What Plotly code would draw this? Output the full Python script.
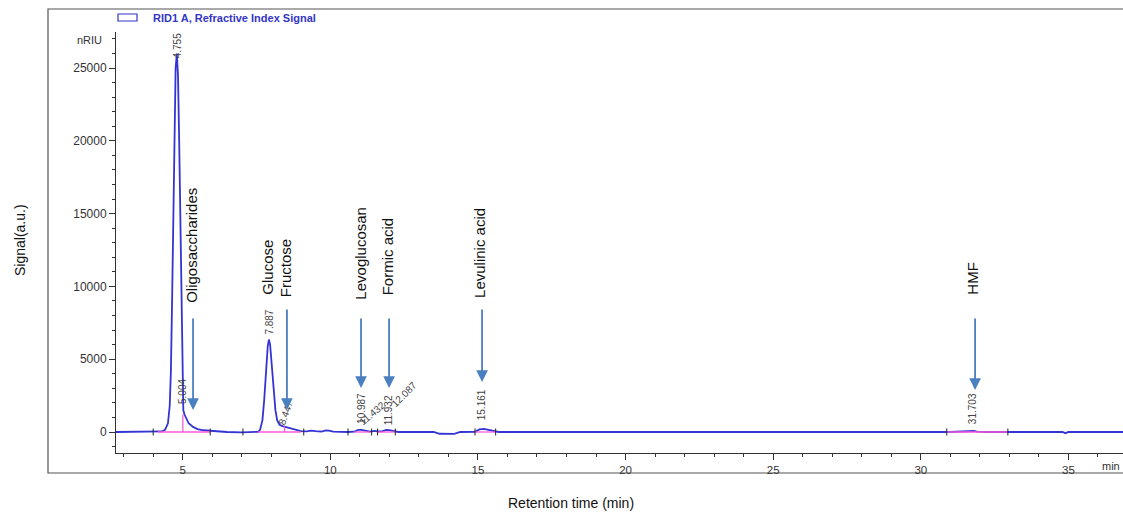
import plotly.graph_objects as go

# ---------------- data ----------------
rt_min = [2.74, 3.5, 4.0, 4.2, 4.30, 4.40, 4.50, 4.56, 4.60, 4.64, 4.68, 4.72, 4.76, 4.80, 4.84, 4.88,
          4.92, 4.96, 4.99, 5.02, 5.06, 5.12, 5.20, 5.35, 5.50, 5.70, 5.90, 6.0, 6.2, 6.5, 7.0, 7.3, 7.55,
          7.62, 7.70, 7.76, 7.82, 7.88, 7.92, 7.96, 8.02, 8.08, 8.14, 8.20, 8.28, 8.38, 8.48, 8.60, 8.75,
          8.90, 9.0, 9.2, 9.35, 9.5, 9.7, 9.85, 9.95, 10.1, 10.3, 10.6, 10.8, 10.95, 11.05, 11.2, 11.35,
          11.5, 11.6, 11.75, 11.9, 12.0, 12.15, 12.3, 13.5, 13.7, 14.2, 14.4, 14.9, 15.05, 15.2, 15.35,
          15.55, 15.7, 31.0, 31.5, 31.6, 31.8, 31.9, 32.2, 34.8, 34.9, 35.0, 36.85]
signal_nriu = [0, 0, 0, 10, 40, 150, 600, 1800, 4200, 9000, 15000, 21000, 25000, 26000, 24500, 20000,
               14000, 7000, 3000, 1500, 1200, 900, 600, 350, 200, 120, 80, 50, 20, 0, -20, -30, 10,
               150, 800, 2200, 4200, 5900, 6350, 6000, 4500, 2800, 1500, 800, 500, 400, 340, 260, 180,
               120, 60, 40, 100, 60, 20, 110, 100, 30, 0, 0, 20, 150, 140, 60, 30,
               80, 40, 50, 140, 130, 40, 0, 0, -120, -130, 0, 10, 180, 220, 150,
               30, 0, 0, 20, 70, 70, 20, 0, 0, -80, 0, 0]

# integration baselines (start, end) and drop lines (time, height)
base_start = [4.16, 7.55, 10.80, 11.60, 14.90, 30.88]
base_end = [5.93, 9.00, 11.35, 12.20, 15.60, 32.95]
drop_t = [5.004, 8.447]
drop_h = [1200, 380]
event_ticks = [4.0, 5.93, 7.04, 9.1, 10.6, 11.4, 11.6, 12.2, 14.9, 15.6, 30.88, 32.95]

# retention-time labels: text, x, y, angle
rt_text = ["4.755", "5.004", "7.887", "8.447", "10.987", "11.432", "11.932", "12.087", "15.161", "31.703"]
rt_x = [4.81, 5.01, 7.94, 8.47, 11.07, 11.41, 11.96, 12.50, 15.11, 31.74]
rt_y = [26500, 2750, 7550, 1300, 1650, 1300, 1500, 2550, 1850, 1580]
rt_ang = [-90, -90, -90, -70, -90, -40, -90, -45, -90, -90]

# compound labels and arrows
cmp_text = ["Oligosaccharides", "Glucose", "Fructose", "Levoglucosan", "Formic acid", "Levulinic acid", "HMF"]
cmp_x = [5.29, 7.86, 8.47, 11.01, 11.93, 15.07, 31.74]
cmp_y = [8720, 9270, 9130, 8930, 9270, 9070, 9270]
arrow_x = [5.35, 8.53, 11.04, 11.99, 15.14, 31.84]
arrow_y = [1510, 1510, 3020, 3020, 3430, 2885]
arrow_len = [93, 102, 71, 71, 74, 73]

x_ticks = [5, 10, 15, 20, 25, 30, 35]
y_ticks = [0, 5000, 10000, 15000, 20000, 25000]

# ---------------- figure ----------------
fig = go.Figure()

fig.add_trace(go.Scatter(x=rt_min, y=signal_nriu, mode="lines",
                         line=dict(color="#3434d4", width=1.8), hoverinfo="skip"))

bx, by = [], []
for s, e in zip(base_start, base_end):
    bx += [s, e, None]
    by += [0, 0, None]
for t, h in zip(drop_t, drop_h):
    bx += [t, t, None]
    by += [0, h, None]
fig.add_trace(go.Scatter(x=bx, y=by, mode="lines", line=dict(color="#ff5ad8", width=1.3),
                         hoverinfo="skip"))

fig.add_trace(go.Scatter(x=event_ticks, y=[0] * len(event_ticks), mode="markers",
                         marker=dict(symbol="line-ns", size=5, line=dict(color="#222", width=1)),
                         hoverinfo="skip"))

ann = []
for t, x, y, a in zip(rt_text, rt_x, rt_y, rt_ang):
    ann.append(dict(x=x, y=y, xref="x", yref="y", text=t, textangle=a, showarrow=False,
                    xanchor="center", yanchor="middle",
                    font=dict(family="Liberation Sans, Arial", size=10, color="#444")))
for t, x, y in zip(cmp_text, cmp_x, cmp_y):
    ann.append(dict(x=x, y=y, xref="x", yref="y", text=t, textangle=-90, showarrow=False,
                    xanchor="center", yanchor="bottom",
                    font=dict(family="Liberation Sans, Arial", size=15, color="#111")))
for x, y, L in zip(arrow_x, arrow_y, arrow_len):
    ann.append(dict(x=x, y=y, xref="x", yref="y", text="", showarrow=True, ax=0, ay=-L,
                    axref="pixel", ayref="pixel", arrowhead=2, arrowsize=1.3, arrowwidth=1.8,
                    arrowcolor="#4a7fc0"))

# paper-level texts
W, H, L0, T0 = 1007.0, 421.0, 116.0, 32.0
def px(xp):
    return (xp - L0) / W
def py(yp):
    return (T0 + H - yp) / H

ann.append(dict(x=px(20), y=py(240), xref="paper", yref="paper", text="Signal(a.u.)", textangle=-90,
                showarrow=False, xanchor="center", yanchor="middle",
                font=dict(family="Liberation Sans, Arial", size=14, color="#111")))
ann.append(dict(x=px(571), y=py(503), xref="paper", yref="paper", text="Retention time (min)",
                showarrow=False, xanchor="center", yanchor="middle",
                font=dict(family="Liberation Sans, Arial", size=14, color="#111")))
ann.append(dict(x=px(104), y=py(40), xref="paper", yref="paper", text="nRIU",
                showarrow=False, xanchor="right", yanchor="middle",
                font=dict(family="Liberation Sans, Arial", size=11, color="#333")))
ann.append(dict(x=px(1100), y=py(466), xref="paper", yref="paper", text="min",
                showarrow=False, xanchor="left", yanchor="middle",
                font=dict(family="Liberation Sans, Arial", size=11, color="#333")))
ann.append(dict(x=px(151), y=py(18), xref="paper", yref="paper", text="<b>RID1 A, Refractive Index Signal</b>",
                showarrow=False, xanchor="left", yanchor="middle",
                font=dict(family="Liberation Sans, Arial", size=11, color="#3535c8")))

shapes = [
    dict(type="rect", xref="paper", yref="paper", x0=px(48), x1=px(1135), y0=py(473), y1=py(9),
         line=dict(color="#555", width=1.2), fillcolor="rgba(0,0,0,0)", layer="below"),
    dict(type="rect", xref="paper", yref="paper", x0=px(118), x1=px(137), y0=py(21), y1=py(14),
         line=dict(color="#3535c8", width=1.2), fillcolor="rgba(0,0,0,0)"),
]

fig.update_layout(
    width=1123, height=515,
    margin=dict(l=116, r=0, t=32, b=62),
    paper_bgcolor="white", plot_bgcolor="white",
    showlegend=False,
    annotations=ann, shapes=shapes,
    font=dict(family="Liberation Sans, Arial", color="#333"),
    xaxis=dict(range=[2.74, 36.85], tickvals=x_ticks, ticks="outside", ticklen=6, tickcolor="#333",
               showline=True, linecolor="#333", linewidth=1, showgrid=False, zeroline=False,
               tickfont=dict(size=11.5, color="#333"),
               minor=dict(dtick=1, tick0=0, ticks="outside", ticklen=3, tickcolor="#333")),
    yaxis=dict(range=[-1442, 27473], tickvals=y_ticks, tickformat="d", ticks="outside", ticklen=6,
               tickcolor="#333", showline=True, linecolor="#333", linewidth=1, showgrid=False,
               zeroline=False, tickfont=dict(size=12, color="#333"),
               minor=dict(dtick=1000, tick0=0, ticks="outside", ticklen=3, tickcolor="#333")),
)

fig.write_html("out.html")
